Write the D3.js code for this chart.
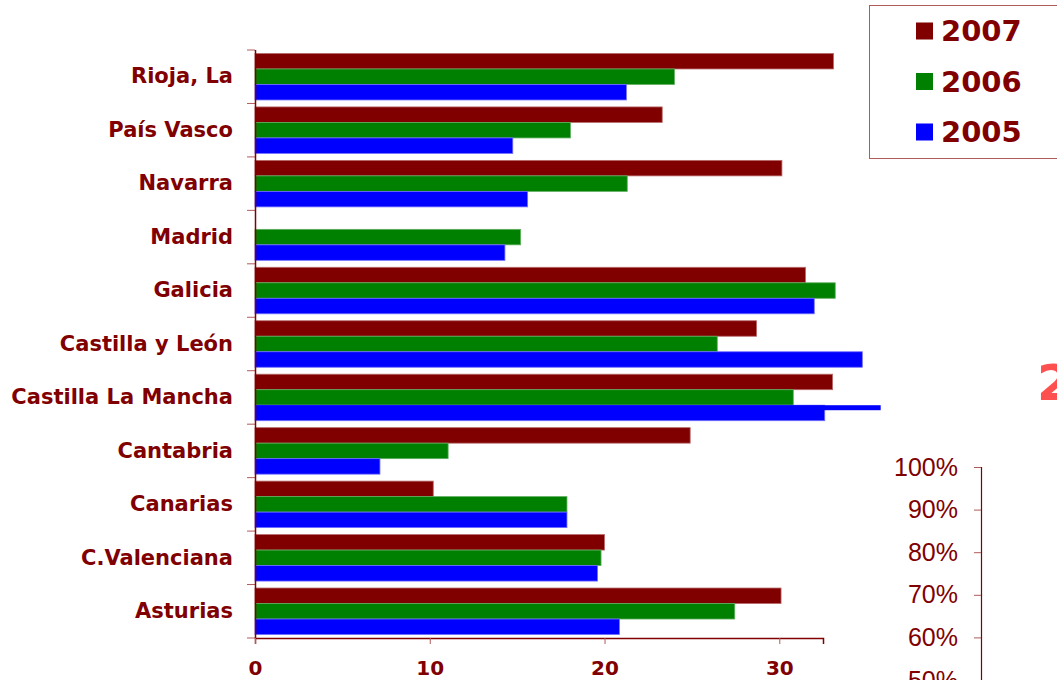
<!DOCTYPE html>
<html>
<head>
<meta charset="utf-8">
<script src="https://cdn.jsdelivr.net/npm/d3@7"></script>
<style>
  body { margin: 0; background: #fff; }
  svg { display: block; }
</style>
</head>
<body>
<svg class="chart" width="1057" height="680"></svg>
<script>
// categories, top to bottom
var categories = ["Rioja, La", "País Vasco", "Navarra", "Madrid", "Galicia",
  "Castilla y León", "Castilla La Mancha", "Cantabria", "Canarias",
  "C.Valenciana", "Asturias"];

var years = ["2007", "2006", "2005"];

var values2007 = [33.1, 23.3, 30.15, 0, 31.5, 28.7, 33.05, 24.9, 10.2, 20.0, 30.1];
var values2006 = [24.0, 18.05, 21.3, 15.2, 33.2, 26.45, 30.8, 11.05, 17.85, 19.8, 27.45];
var values2005 = [21.25, 14.75, 15.6, 14.3, 32.0, 34.75, 32.6, 7.15, 17.85, 19.6, 20.85];

// stray thin line drawn over the 2005 bar of one region
var extraCat = ["Castilla La Mancha"];
var extraVal = [35.8];

var xTicks = [0, 10, 20, 30];

// axis of the chart lying underneath (bottom right)
var pctTicks = [1, 0.9, 0.8, 0.7, 0.6, 0.5];

var colors = { "2007": "#800000", "2006": "#008000", "2005": "#0000ff" };
var strokes = { "2007": "#b86a6a", "2006": "#5fae5f", "2005": "#7070ff" };

var svg = d3.select(".chart");
var dark = "#800000";
var labelFont = "'DejaVu Sans', Verdana, sans-serif";
var bottom = 638;

var data = categories.map(function (c, i) {
  return { cat: c, "2007": values2007[i], "2006": values2006[i], "2005": values2005[i] };
});

var x = d3.scaleLinear().domain([0, 32.5]).range([255, 823]);

var y0 = d3.scaleBand()
  .domain(categories)
  .range([50, bottom])
  .paddingInner(0.13)
  .paddingOuter(0.065);

var y1 = d3.scaleBand().domain(years).range([0, y0.bandwidth()]);

// bars
svg.append("g")
  .selectAll("g")
  .data(data)
  .enter()
  .append("g")
  .attr("transform", function (d) { return "translate(0," + y0(d.cat) + ")"; })
  .selectAll("rect")
  .data(function (d) {
    return years.map(function (k) { return { key: k, value: d[k] }; })
      .filter(function (e) { return e.value > 0; });
  })
  .enter()
  .append("rect")
  .attr("x", x(0))
  .attr("y", function (d) { return y1(d.key); })
  .attr("width", function (d) { return x(d.value) - x(0); })
  .attr("height", y1.bandwidth())
  .attr("fill", function (d) { return colors[d.key]; })
  .attr("stroke", function (d) { return strokes[d.key]; })
  .attr("stroke-width", 0.8);

svg.append("g")
  .selectAll("rect")
  .data(extraCat.map(function (c, i) { return { cat: c, value: extraVal[i] }; }))
  .enter()
  .append("rect")
  .attr("x", x(0))
  .attr("y", function (d) { return y0(d.cat) + y1("2005"); })
  .attr("width", function (d) { return x(d.value) - x(0); })
  .attr("height", 5)
  .attr("fill", colors["2005"]);

// category axis: ticks sit between categories
var step = y0.step();
var yAxis = svg.append("g");
yAxis.selectAll("line")
  .data(d3.range(categories.length + 1))
  .enter()
  .append("line")
  .attr("x1", 247).attr("x2", 255)
  .attr("y1", function (i) { return 50 + i * step; })
  .attr("y2", function (i) { return 50 + i * step; })
  .attr("stroke", "#b05a5a");
yAxis.append("line")
  .attr("x1", 255.5).attr("x2", 255.5)
  .attr("y1", 50).attr("y2", bottom)
  .attr("stroke", dark).attr("stroke-width", 1.5);

var catAxis = svg.append("g")
  .attr("transform", "translate(255,0)")
  .call(d3.axisLeft(y0).tickSize(0).tickPadding(22));
catAxis.select(".domain").remove();
catAxis.selectAll("text")
  .attr("fill", dark)
  .attr("font-family", labelFont)
  .attr("font-weight", "bold")
  .attr("font-size", 21);

// value axis
var xAxis = svg.append("g")
  .attr("transform", "translate(0," + bottom + ")")
  .call(d3.axisBottom(x).tickValues(xTicks).tickSize(6).tickPadding(17));
xAxis.select(".domain").attr("stroke", dark).attr("stroke-width", 1.5);
xAxis.selectAll(".tick line").attr("stroke", "#b05a5a");
xAxis.selectAll("text")
  .attr("fill", dark)
  .attr("font-family", labelFont)
  .attr("font-weight", "bold")
  .attr("font-size", 20);

// legend
var legend = svg.append("g");
legend.append("rect")
  .attr("x", 869.5).attr("y", 5.5)
  .attr("width", 200).attr("height", 153)
  .attr("fill", "#fff")
  .attr("stroke", "#b05a5a");
var item = legend.selectAll(".item")
  .data(years)
  .enter()
  .append("g")
  .attr("class", "item")
  .attr("transform", function (d, i) { return "translate(916," + (31 + i * 50.5) + ")"; });
item.append("rect")
  .attr("x", 0).attr("y", -8.5)
  .attr("width", 17).attr("height", 17)
  .attr("fill", function (d) { return colors[d]; });
item.append("text")
  .attr("x", 25)
  .attr("dy", "0.36em")
  .attr("fill", dark)
  .attr("font-family", labelFont)
  .attr("font-weight", "bold")
  .attr("font-size", 29)
  .text(function (d) { return d; });

// pieces of the next chart showing through
var p = d3.scaleLinear().domain([0.5, 1]).range([680, 467]);
var pAxis = svg.append("g")
  .attr("transform", "translate(981,0)")
  .call(d3.axisLeft(p).tickValues(pctTicks).tickFormat(d3.format(".0%")).tickSize(7).tickPadding(16));
pAxis.select(".domain").attr("stroke", dark).attr("stroke-width", 1.2);
pAxis.selectAll(".tick line").attr("stroke", "#b05a5a");
pAxis.selectAll("text")
  .attr("fill", dark)
  .attr("font-family", "'Liberation Sans', Arial, sans-serif")
  .attr("font-size", 25);

svg.append("text")
  .attr("x", 1037)
  .attr("y", 400)
  .attr("fill", "#ff5050")
  .attr("font-family", labelFont)
  .attr("font-weight", "bold")
  .attr("font-size", 50)
  .text("2");
</script>
</body>
</html>
